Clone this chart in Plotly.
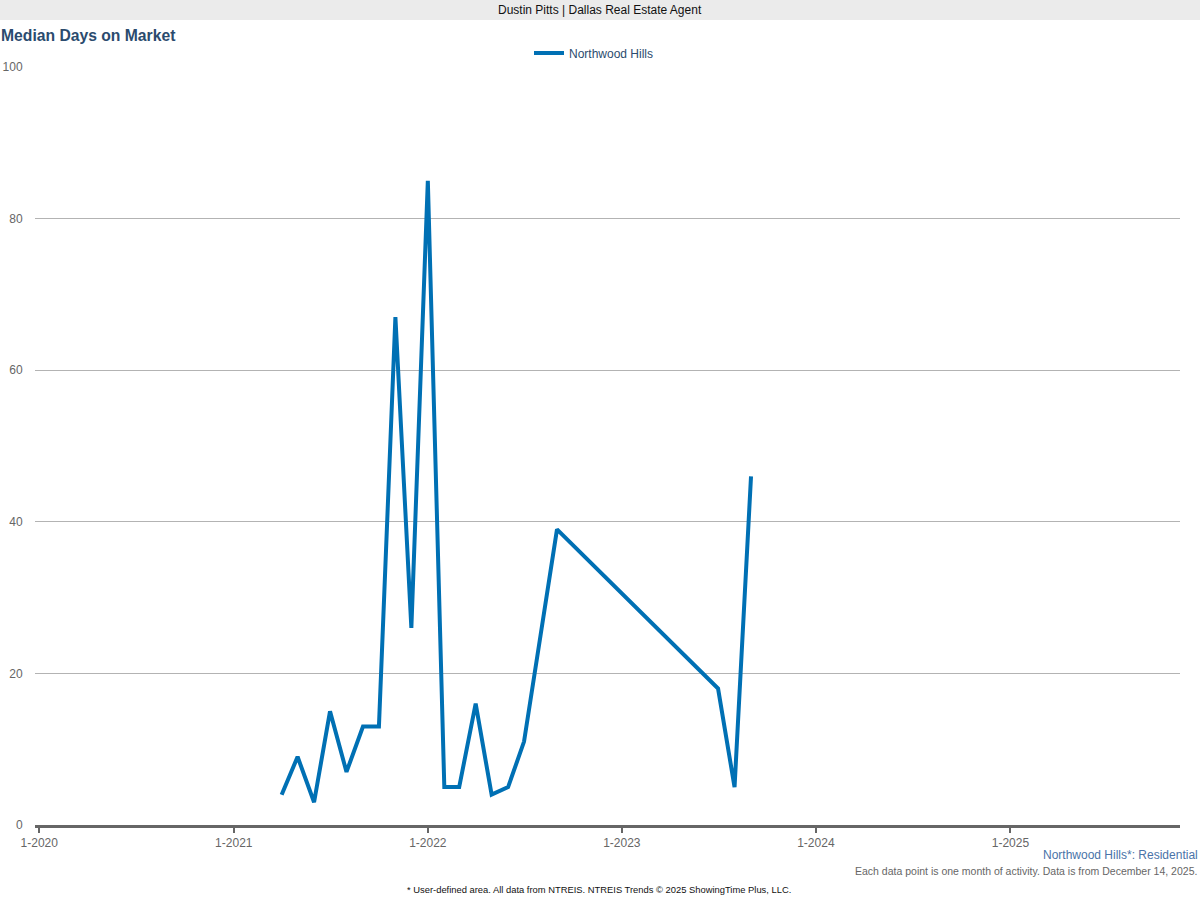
import plotly.graph_objects as go

# ---- data ----
months = ["2021-04-01", "2021-05-01", "2021-06-01", "2021-07-01", "2021-08-01",
          "2021-09-01", "2021-10-01", "2021-11-01", "2021-12-01", "2022-01-01",
          "2022-02-01", "2022-03-01", "2022-04-01", "2022-05-01", "2022-06-01",
          "2022-07-01", "2022-08-01", "2022-09-01", "2023-07-01", "2023-08-01",
          "2023-09-01"]
median_days = [4, 9, 3, 15, 7, 13, 13, 67, 26, 85, 5, 5, 16, 4, 5, 11, 25, 39, 18, 5, 46]
series_name = "Northwood Hills"
tick_vals = ["2020-01-01", "2021-01-01", "2022-01-01", "2023-01-01", "2024-01-01", "2025-01-01"]
tick_text = ["1-2020", "1-2021", "1-2022", "1-2023", "1-2024", "1-2025"]

# ---- layout geometry ----
W, H = 1200, 900
ML, MR, MT, MB = 35, 20, 67, 75
PW, PH = W - ML - MR, H - MT - MB


def px(x):
    return (x - ML) / PW


def py(y):
    return (H - MB - y) / PH


FONT = "Liberation Sans, Arial, sans-serif"

fig = go.Figure()
fig.add_trace(go.Scatter(
    x=months, y=median_days, mode="lines", name=series_name,
    line=dict(color="#0070b4", width=4),
    connectgaps=True,
))

fig.update_layout(
    width=W, height=H,
    margin=dict(l=ML, r=MR, t=MT, b=MB, autoexpand=False),
    paper_bgcolor="white", plot_bgcolor="white",
    font=dict(family=FONT, size=12, color="#666666"),
    showlegend=True,
    legend=dict(orientation="h", x=px(594), xanchor="center", y=py(53), yanchor="middle",
                font=dict(family=FONT, size=12, color="#2b4b6e"),
                itemwidth=30, bgcolor="rgba(0,0,0,0)"),
    xaxis=dict(
        type="date", range=["2019-12-24", "2025-11-16"],
        tickvals=tick_vals, ticktext=tick_text,
        showgrid=False, zeroline=False, automargin=False,
        showline=True, linecolor="#666666", linewidth=3,
        ticks="outside", ticklen=5, tickwidth=2, tickcolor="#666666",
        tickfont=dict(family=FONT, size=12, color="#666666"),
    ),
    yaxis=dict(
        range=[0, 100], tickvals=[0, 20, 40, 60, 80, 100],
        showgrid=True, gridcolor="#b3b3b3", gridwidth=1,
        zeroline=False, showline=False, automargin=False,
        ticks="outside", ticklen=9, tickcolor="rgba(0,0,0,0)",
        tickfont=dict(family=FONT, size=12, color="#666666"),
    ),
    shapes=[dict(type="rect", xref="paper", yref="paper",
                 x0=px(0), x1=px(W), y0=py(20), y1=py(0),
                 fillcolor="#ebebeb", line=dict(width=0), layer="below")],
    annotations=[
        dict(text="Dustin Pitts | Dallas Real Estate Agent", xref="paper", yref="paper",
             x=px(600), y=py(10), xanchor="center", yanchor="middle", showarrow=False,
             font=dict(family=FONT, size=12, color="#111111")),
        dict(text="<b>Median Days on Market</b>", xref="paper", yref="paper",
             x=px(-1), y=py(35), xanchor="left", yanchor="middle", showarrow=False,
             font=dict(family=FONT, size=15.7, color="#2b4b6e")),
        dict(text="Northwood Hills*: Residential", xref="paper", yref="paper",
             x=px(1200), y=py(855), xanchor="right", yanchor="middle", showarrow=False,
             font=dict(family=FONT, size=12, color="#4a73a8")),
        dict(text="Each data point is one month of activity. Data is from December 14, 2025.",
             xref="paper", yref="paper",
             x=px(1199), y=py(871), xanchor="right", yanchor="middle", showarrow=False,
             font=dict(family=FONT, size=10.5, color="#666666")),
        dict(text="* User-defined area. All data from NTREIS. NTREIS Trends \u00a9 2025 ShowingTime Plus, LLC.",
             xref="paper", yref="paper",
             x=px(599), y=py(889), xanchor="center", yanchor="middle", showarrow=False,
             font=dict(family=FONT, size=9.4, color="#111111")),
    ],
)

fig.write_html("out.html", config={"displayModeBar": False},
               post_script="document.body.style.margin='0px';")
